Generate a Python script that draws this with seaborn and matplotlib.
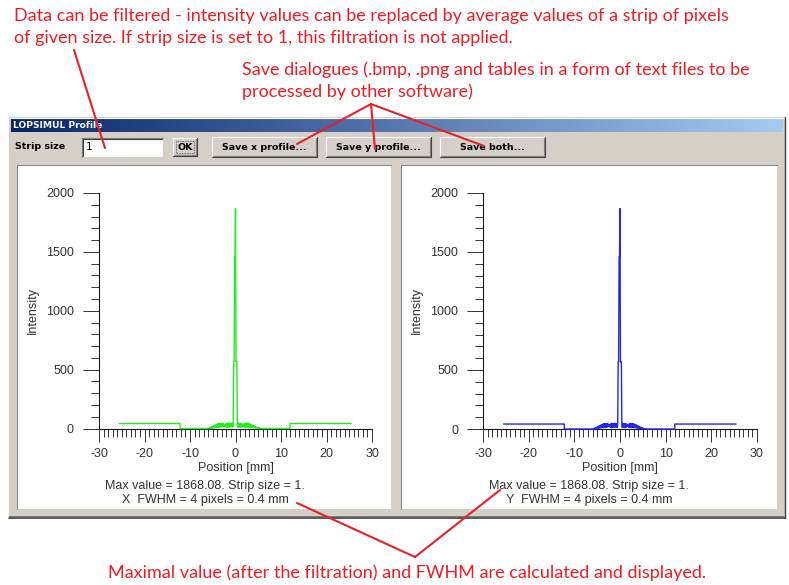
import numpy as np
import matplotlib
matplotlib.use("Agg")
import matplotlib.pyplot as plt
from matplotlib.patches import Rectangle
from matplotlib.colors import LinearSegmentedColormap
from matplotlib.ticker import MultipleLocator
import seaborn as sns

W, H = 789, 585

# profile: plateaus on both sides (mm, intensity)
left_x = [-25.5, -12.2, -12.2, -6.1]
left_y = [42, 42, 0, 0]
right_x = [6.1, 12.0, 12.0, 25.4]
right_y = [0, 0, 42, 42]

# central part, one value per pixel (0.1 mm), from -6.0 to 6.0 mm
center_start = -6.0
pixel_mm = 0.1
x_center_vals = [
    0, 3, 0, 6, 1, 9, 2, 12, 3, 16, 4,
    20, 5, 24, 7, 28, 8, 32, 10, 36, 11,
    40, 12, 38, 10, 42, 14, 39, 12, 44, 13,
    41, 15, 45, 20, 30, 22, 34, 16, 40, 12,
    42, 10, 44, 14, 46, 12, 43, 15, 47, 13,
    42, 16, 45, 12, 40, 570,
    570, 1460, 1460, 1868.08, 570, 570, 570,
    44, 12, 47, 14, 45, 10, 43,
    12, 46, 13, 40, 18, 32, 24, 36, 14, 41,
    11, 44, 13, 46, 10, 41, 15, 45, 12, 40,
    11, 38, 10, 35, 9, 31, 8, 27, 7, 23,
    6, 19, 5, 15, 4, 12, 3, 9, 2, 6,
    1, 4, 0, 3, 0, 2, 0, 1, 0, 0,
]
y_center_vals = [
    0, 2, 0, 5, 1, 8, 2, 11, 3, 15, 4,
    19, 6, 23, 7, 27, 9, 31, 10, 35, 12,
    39, 13, 42, 11, 45, 15, 43, 13, 47, 14,
    44, 16, 46, 22, 34, 25, 38, 18, 42, 13,
    45, 11, 47, 15, 48, 13, 45, 16, 49, 14,
    44, 17, 46, 13, 42, 570,
    570, 1460, 1460, 1868.08, 570, 570, 570,
    46, 13, 48, 15, 46, 11, 45,
    13, 47, 14, 42, 20, 35, 26, 38, 15, 43,
    12, 46, 14, 47, 11, 43, 16, 46, 13, 42,
    12, 40, 11, 37, 10, 33, 9, 29, 8, 25,
    7, 21, 6, 17, 5, 13, 4, 10, 3, 7,
    2, 5, 1, 3, 0, 2, 0, 1, 0, 0,
]
strip_size = 1
fwhm_pixels = 4

tick_font = "Liberation Sans"
note_font = "Lato"
note_color = "#f01c24"
gui_gray = "#d4d0c8"


def profile(center_vals):
    cx = np.round(center_start + pixel_mm * np.arange(len(center_vals)), 2)
    xs = list(left_x) + list(cx) + list(right_x)
    ys = list(left_y) + list(center_vals) + list(right_y)
    return np.array(xs), np.array(ys, dtype=float)


def px_rect(x0, y0, x1, y1):
    return [x0 / W, 1 - y1 / H, (x1 - x0) / W, (y1 - y0) / H]


sns.set_style("ticks")
plt.rcParams["font.family"] = [tick_font, "DejaVu Sans"]
plt.rcParams["axes.unicode_minus"] = False

fig = plt.figure(figsize=(W / 100, H / 100), dpi=100)
fig.patch.set_facecolor("white")

# background layer: the dialog window
bg = fig.add_axes([0, 0, 1, 1], zorder=-1)
bg.set_xlim(0, W)
bg.set_ylim(H, 0)
bg.axis("off")

bg.add_patch(Rectangle((9, 117), 776, 401, fc=gui_gray, ec="none"))
bg.plot([9, 785], [117.5, 117.5], color="#ffffff", lw=0.8)
bg.plot([9, 785], [517.5, 517.5], color="#404040", lw=1.2)
bg.plot([785, 785], [117, 518], color="#404040", lw=1.0)
bg.plot([9, 784], [516, 516], color="#808080", lw=0.7)

grad = np.linspace(0, 1, 256).reshape(1, -1)
title_cmap = LinearSegmentedColormap.from_list("title", ["#0a246a", "#a6caf0"])
bg.imshow(grad, extent=[11, 783, 132, 119], aspect="auto", cmap=title_cmap, zorder=1)
bg.set_xlim(0, W)
bg.set_ylim(H, 0)
bg.text(13, 125.5, "LOPSIMUL Profile", color="white", fontsize=6.6, fontweight="bold",
        family="DejaVu Sans", va="center", ha="left", zorder=2)

bg.text(15, 146.5, "Strip size", fontsize=6.8, fontweight="bold", family="DejaVu Sans",
        va="center", ha="left", color="#000000")

# text box
bg.add_patch(Rectangle((82, 138), 81, 19, fc="white", ec="none"))
bg.plot([82, 163], [138, 138], color="#808080", lw=0.8)
bg.plot([82, 82], [138, 157], color="#808080", lw=0.8)
bg.plot([83, 162], [139, 139], color="#404040", lw=0.8)
bg.plot([83, 83], [139, 156], color="#404040", lw=0.8)
bg.text(86, 147.5, str(strip_size), fontsize=7.5, family="DejaVu Sans", va="center", color="black")


def button(x0, y0, x1, y1, label, focus=False):
    bg.add_patch(Rectangle((x0, y0), x1 - x0, y1 - y0, fc=gui_gray, ec="none"))
    bg.plot([x0, x1], [y0, y0], color="white", lw=0.8)
    bg.plot([x0, x0], [y0, y1], color="white", lw=0.8)
    bg.plot([x0, x1], [y1, y1], color="#404040", lw=0.8)
    bg.plot([x1, x1], [y0, y1], color="#404040", lw=0.8)
    bg.plot([x0 + 1, x1 - 1], [y1 - 1, y1 - 1], color="#808080", lw=0.8)
    bg.plot([x1 - 1, x1 - 1], [y0 + 1, y1 - 1], color="#808080", lw=0.8)
    if focus:
        bg.add_patch(Rectangle((x0 + 3, y0 + 3), x1 - x0 - 6, y1 - y0 - 6, fc="none",
                               ec="#404040", lw=0.6, ls=(0, (1, 1))))
    bg.text((x0 + x1) / 2, (y0 + y1) / 2 + 0.5, label, fontsize=6.8, fontweight="bold",
            family="DejaVu Sans", ha="center", va="center", color="black")


button(173, 138, 197, 156, "OK", focus=True)
button(212, 137, 317, 157, "Save x profile...")
button(326, 137, 431, 157, "Save y profile...")
button(440, 137, 545, 157, "Save both...")

# white plot panels
for x0, x1 in [(17, 391), (401, 777)]:
    bg.add_patch(Rectangle((x0, 165), x1 - x0, 344, fc="white", ec="none"))
    bg.plot([x0, x1], [165, 165], color="#808080", lw=0.7)
    bg.plot([x0, x0], [165, 509], color="#808080", lw=0.7)

panels = [
    (px_rect(99, 193, 372, 428.5), profile(x_center_vals), "#22ee22", "X", 205),
    (px_rect(483, 193, 757, 429), profile(y_center_vals), "#2626f0", "Y", 589),
]

for rect, (px, py), color, axis_name, text_cx in panels:
    ax = fig.add_axes(rect)
    ax.patch.set_alpha(0)
    sns.lineplot(x=px, y=py, ax=ax, color=color, linewidth=1.0, estimator=None,
                 sort=False, clip_on=False, zorder=3)
    ax.set_xlim(-30, 30)
    ax.set_ylim(0, 2000)
    ax.xaxis.set_major_locator(MultipleLocator(10))
    ax.xaxis.set_minor_locator(MultipleLocator(1))
    ax.yaxis.set_major_locator(MultipleLocator(500))
    ax.yaxis.set_minor_locator(MultipleLocator(100))
    for side in ["top", "right"]:
        ax.spines[side].set_visible(False)
    for side in ["left", "bottom"]:
        ax.spines[side].set_color("#1a1a1a")
        ax.spines[side].set_linewidth(0.8)
    ax.tick_params(axis="y", which="major", length=11.5, width=0.7, color="#333333",
                   pad=6.5, labelsize=9, labelcolor="#333333")
    ax.tick_params(axis="y", which="minor", length=5.8, width=0.7, color="#333333")
    ax.tick_params(axis="x", which="major", length=9.4, width=0.7, color="#333333",
                   pad=4.5, labelsize=9, labelcolor="#333333")
    ax.tick_params(axis="x", which="minor", length=5.8, width=0.7, color="#333333")
    ax.set_xlabel("Position [mm]", fontsize=9, color="#333333", labelpad=1.5)
    ax.set_ylabel("Intensity", fontsize=9, color="#333333", labelpad=5)
    ax.grid(False)

    bg.text(text_cx, 485.5, f"Max value = {py.max():.2f}. Strip size = {strip_size}.",
            fontsize=9, color="#333333", ha="center", va="center")
    bg.text(text_cx, 500, f"{axis_name}  FWHM = {fwhm_pixels} pixels = {fwhm_pixels * pixel_mm:.1f} mm",
            fontsize=9, color="#333333", ha="center", va="center")

# annotation layer on top
top = fig.add_axes([0, 0, 1, 1], zorder=10)
top.set_xlim(0, W)
top.set_ylim(H, 0)
top.axis("off")
top.patch.set_alpha(0)

note_kw = dict(family=note_font, fontsize=13, color=note_color, va="center", ha="left")
top.text(14, 16, "Data can be filtered - intensity values can be replaced by average values of a strip of pixels", **note_kw)
top.text(14, 38, "of given size. If strip size is set to 1, this filtration is not applied.", **note_kw)
top.text(242, 70, "Save dialogues (.bmp, .png and tables in a form of text files to be", **note_kw)
top.text(242, 92, "processed by other software)", **note_kw)
top.text(407, 573, "Maximal value (after the filtration) and FWHM are calculated and displayed.",
         **{**note_kw, "ha": "center"})

line_kw = dict(color="#e8202a", lw=1.5, solid_capstyle="round")
top.plot([74, 105], [50, 148], **line_kw)
apex = (371, 104)
for end in [(297, 144), (375, 149), (484, 146)]:
    top.plot([apex[0], end[0]], [apex[1], end[1]], **line_kw)
vtip = (415, 557)
for end in [(297, 503), (500, 490)]:
    top.plot([vtip[0], end[0]], [vtip[1], end[1]], **line_kw)

fig.savefig("out.png", dpi=100)
